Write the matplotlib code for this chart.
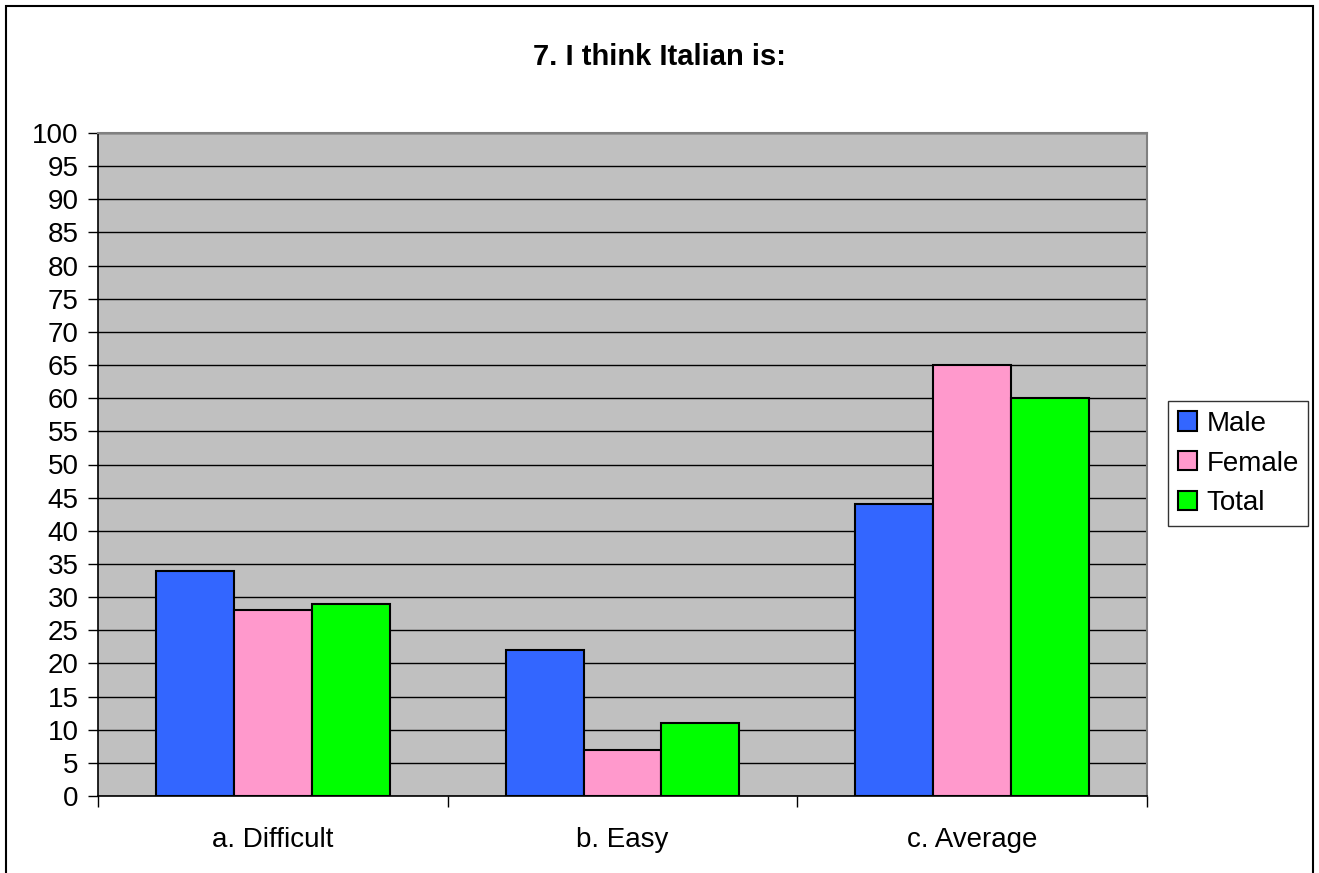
import matplotlib.pyplot as plt
import numpy as np
from matplotlib.patches import Rectangle

plt.rcParams['font.family'] = ['Liberation Sans', 'DejaVu Sans']

title = '7. I think Italian is:'
categories = ['a. Difficult', 'b. Easy', 'c. Average']
series = ['Male', 'Female', 'Total']
male = [34, 22, 44]
female = [28, 7, 65]
total = [29, 11, 60]
colors = ['#3366FF', '#FF99CC', '#00FF00']
yticks = list(range(0, 101, 5))

fig = plt.figure(figsize=(13.19, 8.73), dpi=100)
ax = fig.add_axes([98 / 1319, 77 / 873, 1049 / 1319, 663 / 873])
ax.set_facecolor('#C0C0C0')

x = np.arange(len(categories))
w = 0.223
for i, (name, vals) in enumerate(zip(series, [male, female, total])):
    ax.bar(x + (i - 1) * w, vals, w, color=colors[i], edgecolor='black',
           linewidth=1.5, label=name, zorder=3)

ax.set_xlim(-0.5, 2.5)
ax.set_ylim(0, 100)
ax.set_yticks(yticks)
ax.yaxis.grid(True, color='black', linewidth=1.0, zorder=1)
ax.set_axisbelow(True)
ax.tick_params(axis='y', labelsize=20, length=7, width=1, direction='out', pad=7)

ax.set_xticks(x)
ax.set_xticklabels(categories, fontsize=20)
ax.tick_params(axis='x', length=0, pad=22)
ax.set_xticks(np.arange(-0.5, 2.6, 1), minor=True)
ax.tick_params(axis='x', which='minor', length=8, width=1, direction='out')

for s in ['top', 'right']:
    ax.spines[s].set_color('#808080')
    ax.spines[s].set_linewidth(1.5)
for s in ['left', 'bottom']:
    ax.spines[s].set_color('black')
    ax.spines[s].set_linewidth(1.2)

fig.text(0.5, 1 - 57 / 873, title, ha='center', va='center',
         fontsize=21, fontweight='bold')

leg = fig.legend(loc='upper left', bbox_to_anchor=(1168 / 1319, 1 - 401 / 873),
                 fontsize=20, frameon=True, fancybox=False, edgecolor='black',
                 handlelength=0.68, handleheight=0.68, handletextpad=0.35,
                 borderpad=0.35, labelspacing=0.5, borderaxespad=0)
leg.get_frame().set_linewidth(1.0)

# outer chart border (open at the bottom)
fig.patches.append(Rectangle((6 / 1319, -0.1), 1307 / 1319, 1.1 - 6 / 873,
                             transform=fig.transFigure, fill=False,
                             edgecolor='black', linewidth=1.5))

fig.savefig('out.png', dpi=100)
